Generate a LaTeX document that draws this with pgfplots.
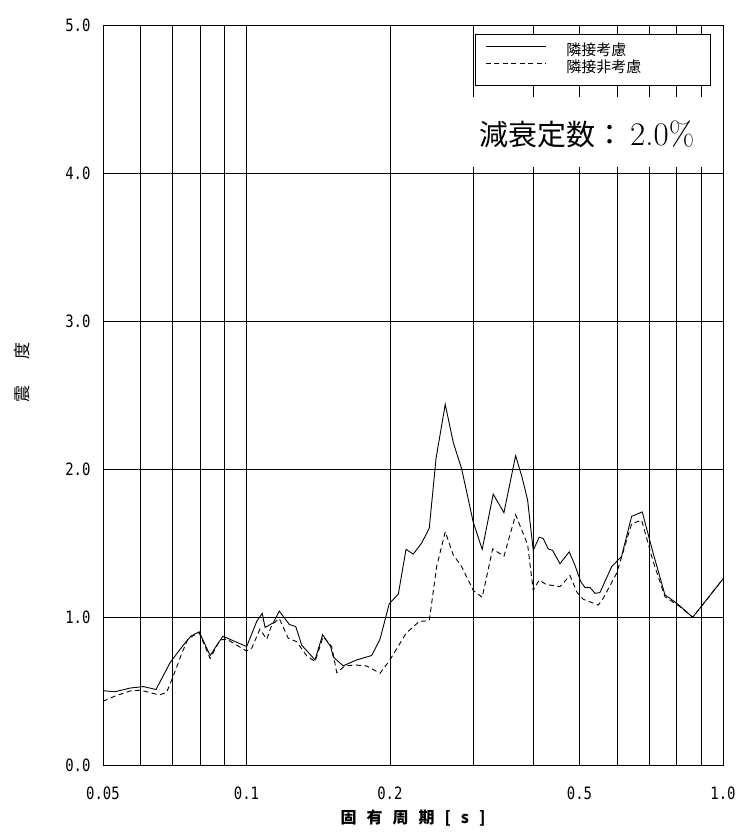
\documentclass[border=0pt]{standalone}
\usepackage{fontspec}
\usepackage{pgfplots}
\pgfplotsset{compat=1.18}
\newfontfamily\jp{Noto Sans CJK JP}
\newfontfamily\mono{DejaVu Sans Mono}[FakeStretch=0.82]

\begin{document}
\begin{tikzpicture}
\begin{axis}[
    scale only axis, width=620pt, height=740pt,
    xmode=log, xmin=0.05, xmax=1, ymin=0, ymax=5,
    xtick={0.05,0.06,0.07,0.08,0.09,0.1,0.2,0.3,0.4,0.5,0.6,0.7,0.8,0.9,1},
    xticklabels={0.05,{},{},{},{},0.1,0.2,{},{},0.5,{},{},{},{},1.0},
    ytick={0,1,2,3,4,5},
    yticklabels={0.0,1.0,2.0,3.0,4.0,5.0},
    grid=major, major grid style={black, line width=0.7pt},
    major tick length=0pt, minor tick length=0pt,
    axis line style={line width=0.8pt},
    /pgf/number format/assume math mode=true,
    tick label style={font=\mono\fontsize{17}{17}\selectfont},
    xticklabel style={yshift=-18pt},
    yticklabel style={xshift=-9pt},
    xlabel={固\hspace{10pt}有\hspace{10pt}周\hspace{10pt}期\hspace{10pt}[\hspace{10pt}s\hspace{10pt}]},
    xlabel style={at={(axis description cs:0.5,-0.0716)}, anchor=center, font=\jp\bfseries\fontsize{16}{16}\selectfont},
    ylabel={震\hspace{26pt}度},
    ylabel style={at={(axis description cs:-0.1306,0.53)}, anchor=center, font=\jp\fontsize{17}{17}\selectfont},
    legend style={at={(0.6,0.9878)}, anchor=north west, draw=black, line width=0.8pt, fill=white,
        inner xsep=10pt, inner ysep=10pt, row sep=3pt,
        nodes={inner sep=0pt, text height=11pt, text depth=3pt},
        font=\jp\fontsize{15}{15}\selectfont},
    legend cell align=left,
    legend image code/.code={\draw[#1] (0pt,4.5pt) -- (60pt,4.5pt);},
]
\coordinate (sw) at (rel axis cs:0,0);
\coordinate (ne) at (rel axis cs:1,1);
\fill[white] (rel axis cs:0.595,0.808) rectangle (rel axis cs:0.997,0.9027);
\node[anchor=west, inner sep=0pt] at (rel axis cs:0.6065,0.852) {{\jp\fontsize{29}{29}\selectfont 減衰定数：}\hspace{6pt}\fontsize{33}{33}\selectfont 2.0\%};

\addplot[black, line width=0.9pt] coordinates {
(0.0500,0.502) (0.0530,0.495) (0.0570,0.52) (0.0608,0.53) (0.0646,0.51)
(0.0691,0.69) (0.0725,0.78) (0.0764,0.87) (0.0796,0.90) (0.0839,0.74)
(0.0892,0.87) (0.1001,0.80) (0.1051,0.97) (0.1079,1.025) (0.1094,0.93)
(0.1138,0.96) (0.1172,1.04) (0.1230,0.95) (0.1269,0.935) (0.1306,0.81)
(0.1393,0.71) (0.1445,0.88) (0.1502,0.80) (0.1521,0.73) (0.1596,0.67)
(0.1703,0.71) (0.1832,0.74) (0.1907,0.85) (0.1994,1.09) (0.2083,1.155)
(0.2162,1.457) (0.2239,1.425) (0.2332,1.50) (0.2419,1.60) (0.2499,2.07)
(0.2613,2.437) (0.2716,2.18) (0.2829,2.00) (0.2992,1.64) (0.3124,1.457)
(0.3295,1.83) (0.3470,1.705) (0.3672,2.09) (0.3791,1.94) (0.3891,1.79)
(0.3998,1.45) (0.4115,1.54) (0.4195,1.53) (0.4298,1.46) (0.4390,1.45)
(0.4548,1.36) (0.4757,1.44) (0.4890,1.35) (0.5027,1.24) (0.5132,1.20)
(0.5257,1.20) (0.5386,1.16) (0.5518,1.165) (0.5839,1.34) (0.6127,1.41)
(0.6431,1.68) (0.6770,1.71) (0.7138,1.43) (0.7554,1.15) (0.8016,1.09)
(0.8637,0.998) (1.0,1.257)
};
\addlegendentry{\hspace*{20pt}\makebox[134pt][l]{隣接考慮}}

\addplot[black, line width=0.9pt, dash pattern=on 5pt off 3.5pt] coordinates {
(0.0500,0.43) (0.0530,0.466) (0.0570,0.50) (0.0598,0.505) (0.0618,0.495)
(0.0656,0.473) (0.0680,0.49) (0.0702,0.60) (0.0732,0.755) (0.0755,0.856)
(0.0796,0.894) (0.0839,0.72) (0.0880,0.845) (0.0909,0.85) (0.1001,0.77)
(0.1026,0.79) (0.1067,0.917) (0.1103,0.85) (0.1130,0.946) (0.1172,0.99)
(0.1224,0.856) (0.1275,0.833) (0.1338,0.737) (0.1393,0.70) (0.1449,0.867)
(0.1510,0.80) (0.1547,0.624) (0.1609,0.669) (0.1690,0.676) (0.1788,0.669)
(0.1907,0.62) (0.2001,0.71) (0.2162,0.89) (0.2305,0.97) (0.2419,0.975)
(0.2507,1.34) (0.2613,1.576) (0.2716,1.42) (0.2829,1.34) (0.2992,1.18)
(0.3124,1.133) (0.3286,1.46) (0.3470,1.41) (0.3672,1.69) (0.3891,1.49)
(0.3998,1.18) (0.4115,1.25) (0.4250,1.22) (0.4548,1.205) (0.4774,1.28)
(0.4945,1.164) (0.5090,1.12) (0.5472,1.08) (0.5606,1.126) (0.5981,1.295)
(0.6431,1.63) (0.6750,1.655) (0.7138,1.374) (0.7554,1.137) (0.8121,1.07)
(0.8637,0.998) (1.0,1.257)
};
\addlegendentry{\hspace*{20pt}\makebox[134pt][l]{隣接非考慮}}
\end{axis}
\pgfresetboundingbox
\path ([shift={(-103pt,-74pt)}]sw) rectangle ([shift={(17pt,25pt)}]ne);
\end{tikzpicture}
\end{document}
